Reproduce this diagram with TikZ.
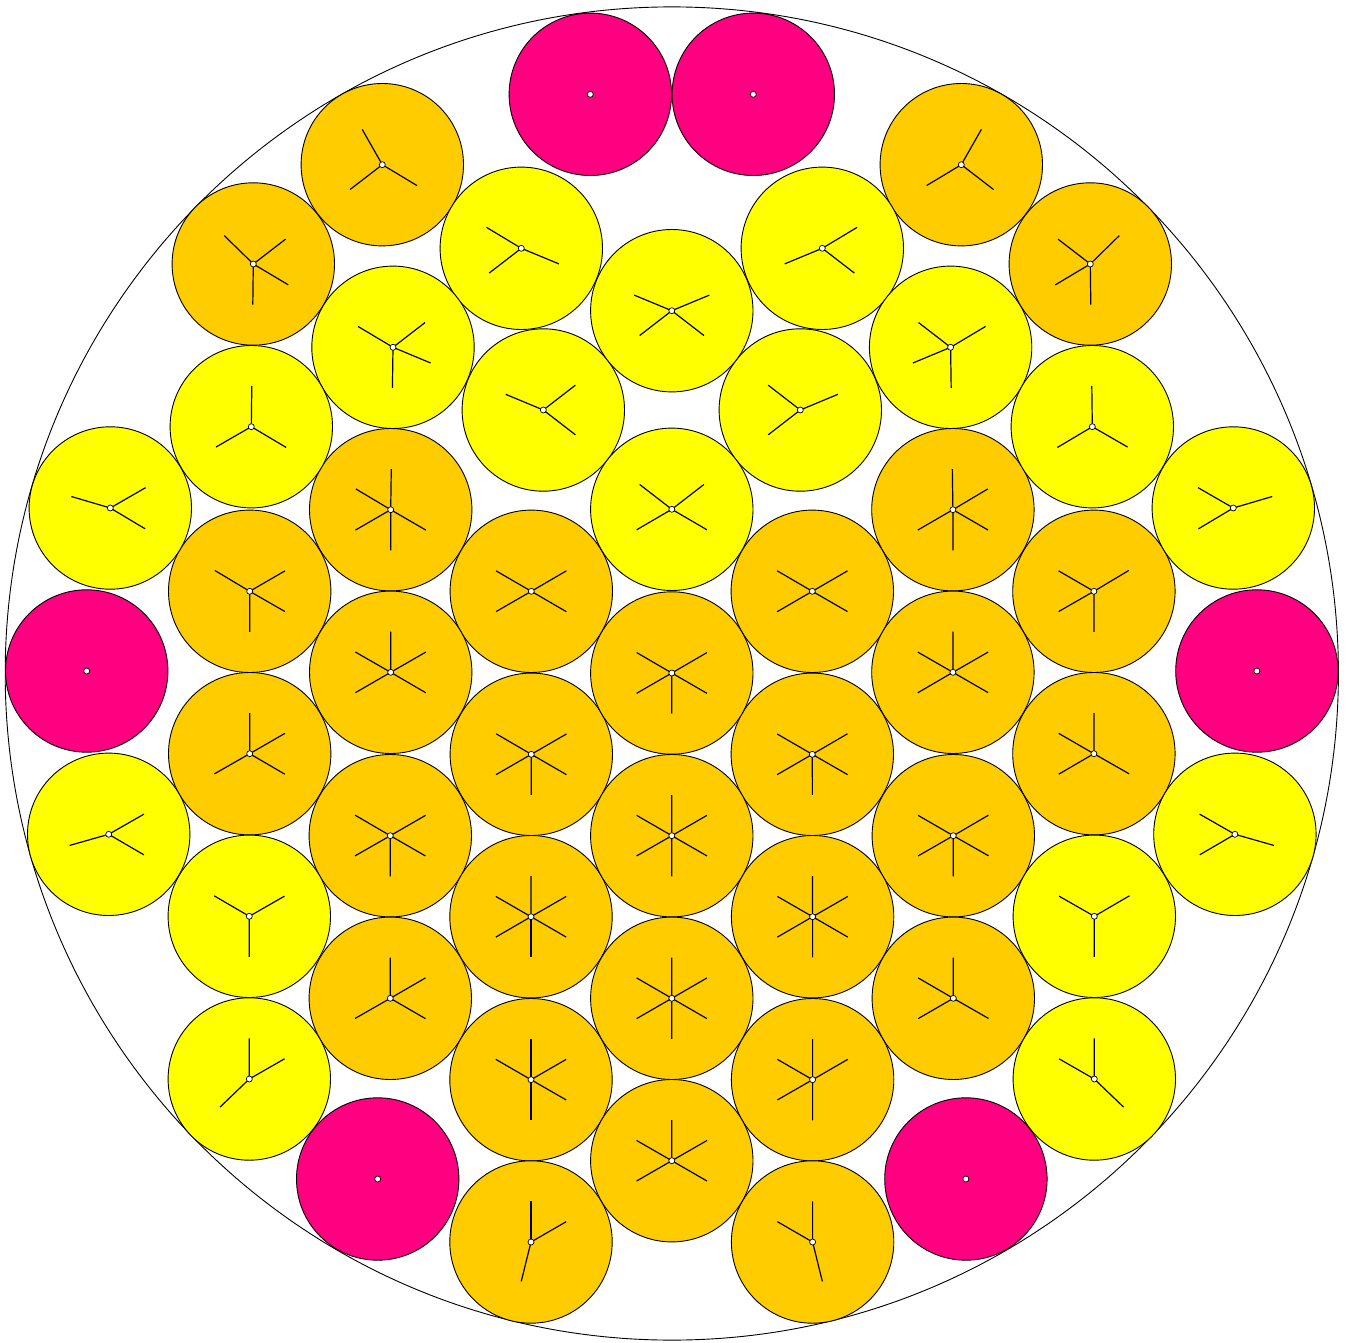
\documentclass[tikz,border=0pt]{standalone}
\usetikzlibrary{calc}
\definecolor{orng}{HTML}{FFCC00}
\definecolor{yel}{HTML}{FFFF00}
\definecolor{pnk}{HTML}{FF0080}
\begin{document}
\begin{tikzpicture}[x=1pt,y=-1pt,
  disc/.style={circle,draw=black,line width=0.9pt,minimum size=162.4pt,inner sep=0pt,outer sep=0pt},
  spoke/.style={line width=1.2pt,black},
  hub/.style={circle,draw=black,fill=white,line width=0.7pt,inner sep=0pt,minimum size=6pt}]
\useasboundingbox (0,0) rectangle (1350,1343);
\node[circle,draw=black,line width=0.9pt,minimum size=1333.2pt,inner sep=0pt] (big) at (671.8,673.5) {};
% left/right mirrored discs
\foreach \n/\x/\y/\c in {
  a/382.3/164.7/orng, b/253.3/264/orng, k/390.7/509.7/orng, j/249.7/591.3/orng,
  q/531.3/591.3/orng, l/390.7/672.3/orng, m/249.7/753.7/orng, s/531.3/754.3/orng,
  pp/390.3/835.7/orng, x/531/916.7/orng, w/390.3/998.3/orng, z/531/1079.7/orng,
  bb/531/1242/orng,
  e/521.3/248.3/yel, c/393/347.3/yel, g/543.3/410/yel, d/251.3/426.7/yel,
  i/110.3/508/yel, n/108.7/834.3/yel, u/249.3/916.3/yel, v/249.3/1079/yel,
  p/590.3/94.3/pnk, pa/86.7/671/pnk, pb/377.7/1179/pnk}{
  \node[disc,fill=\c] (\n1) at (\x,\y) {};
  \node[disc,fill=\c] (\n2) at (1343.6-\x,\y) {};
}
% central column
\foreach \n/\y/\c in {f0/310.7/yel, h0/509.3/yel, r0/673/orng, t0/835.7/orng,
  y0/998.3/orng, aa/1160.7/orng}{
  \node[disc,fill=\c] (\n) at (671.8,\y) {};
}
% contact spokes
\foreach \s in {1,2}{
  \foreach \ca/\cb in {a\s/b\s, a\s/e\s, b\s/a\s, b\s/c\s, b\s/d\s,
    e\s/a\s, e\s/c\s, e\s/f0, c\s/b\s, c\s/e\s, c\s/g\s, c\s/k\s,
    g\s/c\s, g\s/f0, g\s/h0, d\s/b\s, d\s/i\s, d\s/k\s, i\s/d\s, i\s/j\s,
    k\s/c\s, k\s/d\s, k\s/q\s, k\s/j\s, k\s/l\s, j\s/i\s, j\s/k\s, j\s/l\s, j\s/m\s,
    q\s/k\s, q\s/h0, q\s/l\s, q\s/r0, l\s/k\s, l\s/j\s, l\s/q\s, l\s/m\s, l\s/s\s,
    m\s/j\s, m\s/l\s, m\s/n\s, m\s/pp\s, s\s/l\s, s\s/r0, s\s/pp\s, s\s/t0, s\s/x\s,
    pp\s/m\s, pp\s/s\s, pp\s/u\s, pp\s/x\s, pp\s/w\s, n\s/m\s, n\s/u\s,
    u\s/n\s, u\s/pp\s, u\s/v\s, v\s/u\s, v\s/w\s,
    x\s/s\s, x\s/pp\s, x\s/t0, x\s/w\s, x\s/y0, x\s/z\s,
    w\s/pp\s, w\s/x\s, w\s/v\s, w\s/z\s, z\s/x\s, z\s/w\s, z\s/y0, z\s/aa, z\s/bb\s,
    bb\s/z\s, bb\s/aa,
    f0/e\s, f0/g\s, h0/g\s, h0/q\s, r0/q\s, r0/s\s, t0/s\s, t0/x\s,
    y0/x\s, y0/z\s, aa/z\s, aa/bb\s}{
    \draw[spoke] (\ca.center) -- ($(\ca.center)!0.25!(\cb.center)$);
  }
}
\foreach \ca/\cb in {r0/t0, t0/r0, t0/y0, y0/t0, y0/aa, aa/y0}{
  \draw[spoke] (\ca.center) -- ($(\ca.center)!0.25!(\cb.center)$);
}
% spokes towards the container wall
\foreach \ca in {a1,b1,i1,n1,v1,bb1,a2,b2,i2,n2,v2,bb2}{
  \draw[spoke] (\ca.center) -- ($(\ca.center)!-40.6pt!(big.center)$);
}
% hubs
\foreach \n in {a1,b1,k1,j1,q1,l1,m1,s1,pp1,x1,w1,z1,bb1,e1,c1,g1,d1,i1,n1,u1,v1,p1,pa1,pb1,
  a2,b2,k2,j2,q2,l2,m2,s2,pp2,x2,w2,z2,bb2,e2,c2,g2,d2,i2,n2,u2,v2,p2,pa2,pb2,
  f0,h0,r0,t0,y0,aa}{
  \node[hub] (hub\n) at (\n.center) {};
}
\end{tikzpicture}
\end{document}
